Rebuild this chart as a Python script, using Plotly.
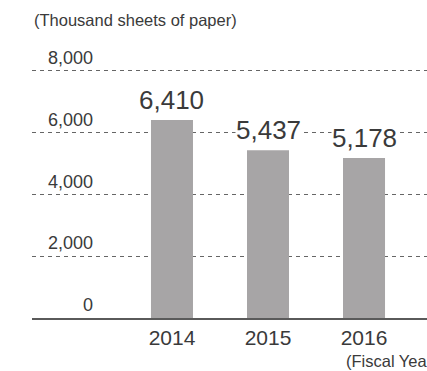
import plotly.graph_objects as go

years = ["2014", "2015", "2016"]
values = [6410, 5437, 5178]
value_labels = ["6,410", "5,437", "5,178"]
y_ticks = [0, 2000, 4000, 6000, 8000]
y_tick_labels = ["0", "2,000", "4,000", "6,000", "8,000"]
unit_label = "(Thousand sheets of paper)"
x_title = "(Fiscal Year)"

FONT = "Liberation Sans, Arial, sans-serif"
TXT = "#3a3a3a"

fig = go.Figure()
fig.add_trace(go.Bar(
    x=years, y=values, width=0.4375,
    marker=dict(color="#a7a5a6", line=dict(width=0)),
    hoverinfo="skip",
))

ann = []
for i, (v, lab) in enumerate(zip(values, value_labels)):
    ann.append(dict(x=i, y=v, xref="x", yref="y", text=lab, showarrow=False,
                    xanchor="center", yanchor="bottom", yshift=4,
                    bgcolor="white", borderpad=0,
                    font=dict(family=FONT, size=26, color=TXT)))
for tv, tl in zip(y_ticks, y_tick_labels):
    ann.append(dict(x=-0.802, y=tv, xref="x", yref="y", text=tl, showarrow=False,
                    xanchor="right", yanchor="bottom", yshift=1,
                    font=dict(family=FONT, size=18, color=TXT)))
ann.append(dict(x=0, y=1.155, xref="paper", yref="paper", text=unit_label,
                showarrow=False, xanchor="left", yanchor="middle",
                font=dict(family=FONT, size=16.5, color=TXT)))
ann.append(dict(x=0.79, y=-0.167, xref="paper", yref="paper", text=x_title,
                showarrow=False, xanchor="left", yanchor="middle",
                font=dict(family=FONT, size=16.5, color=TXT)))

fig.update_layout(
    width=427, height=371,
    margin=dict(l=32, r=0, t=60, b=53),
    paper_bgcolor="white", plot_bgcolor="white",
    showlegend=False,
    annotations=ann,
    xaxis=dict(type="category", range=[-1.458, 2.656], showgrid=False,
               showline=True, linecolor="#5a5a5a", linewidth=1.5,
               ticks="", tickfont=dict(family=FONT, size=21, color=TXT),
               fixedrange=True),
    yaxis=dict(range=[0, 8356], tickvals=y_ticks, showticklabels=False,
               showgrid=True, gridcolor="#666666", gridwidth=1,
               griddash="4px,4px", zeroline=False, fixedrange=True),
)

fig.write_html("out.html")
